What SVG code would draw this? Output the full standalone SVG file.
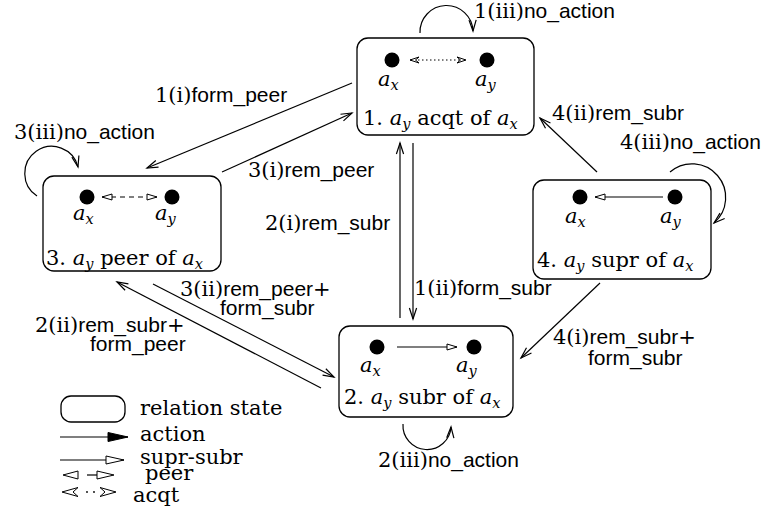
<svg xmlns="http://www.w3.org/2000/svg" width="766" height="522" viewBox="0 0 766 522">
  <style>
    text { fill: #000; white-space: pre; }
    .rm { font-family: "DejaVu Serif", "Liberation Serif", serif; font-size: 21px; }
    .ss { font-family: "Liberation Sans", Arial, sans-serif; font-size: 21px; }
    .it { font-style: italic; }
    .sub { font-size: 14.5px; }
    .box { fill: #fff; stroke: #000; stroke-width: 1.3; }
    .edge { fill: none; stroke: #000; stroke-width: 1.2; }
    .head { fill: #fff; stroke: #000; stroke-width: 1; }
    .dot { fill: #000; }
  </style>
  <defs>
    <!-- open stick arrowhead for actions -->
    <marker id="stick" markerUnits="userSpaceOnUse" markerWidth="14" markerHeight="12" refX="11" refY="5" orient="auto" overflow="visible">
      <path d="M0,1.4 L11,5 L0,8.6" fill="none" stroke="#000" stroke-width="1.2"/>
    </marker>
    <!-- hollow triangle (supr-subr / peer) -->
    <marker id="tri" markerUnits="userSpaceOnUse" markerWidth="12" markerHeight="9" refX="10" refY="3.5" orient="auto-start-reverse" overflow="visible">
      <path d="M0,0.5 L10,3.5 L0,6.5 Z" fill="#fff" stroke="#000" stroke-width="1"/>
    </marker>
    <marker id="triL" markerUnits="userSpaceOnUse" markerWidth="20" markerHeight="10" refX="18" refY="4.5" orient="auto-start-reverse" overflow="visible">
      <path d="M0,0.5 L18,4.5 L0,8.5 Z" fill="#fff" stroke="#000" stroke-width="1"/>
    </marker>
    <!-- notched hollow head (acqt) -->
    <marker id="notch" markerUnits="userSpaceOnUse" markerWidth="11" markerHeight="8" refX="9" refY="3" orient="auto-start-reverse" overflow="visible">
      <path d="M0,0 L9,3 L0,6 L3.5,3 Z" fill="#fff" stroke="#000" stroke-width="1"/>
    </marker>
    <!-- filled head (legend action) -->
    <marker id="fill" markerUnits="userSpaceOnUse" markerWidth="22" markerHeight="11" refX="20" refY="4.5" orient="auto" overflow="visible">
      <path d="M0,0 L20,4.5 L0,9 Z" fill="#000" stroke="#000" stroke-width="1"/>
    </marker>
  </defs>

  <!-- connectors between relation states -->
  <g id="connectors">
    <path class="edge" d="M352,83 L147,168" marker-end="url(#stick)"/>
    <path class="edge" d="M222,172 L352,113" marker-end="url(#stick)"/>
    <path class="edge" d="M400,318 L400,143" marker-end="url(#stick)"/>
    <path class="edge" d="M413,143 L413,319" marker-end="url(#stick)"/>
    <path class="edge" d="M597,172 L540,118" marker-end="url(#stick)"/>
    <path class="edge" d="M600,283 L521,358" marker-end="url(#stick)"/>
    <path class="edge" d="M153,284 L334,377" marker-end="url(#stick)"/>
    <path class="edge" d="M321,388 L117,282" marker-end="url(#stick)"/>
    <!-- self loops -->
    <path class="edge" d="M420,33 A26.5,26.5 0 0 1 473,31" marker-end="url(#stick)"/>
    <path class="edge" d="M37,196 A27,27 0 1 1 78,167" marker-end="url(#stick)"/>
    <path class="edge" d="M670,172 A33,33 0 0 1 714,223" marker-end="url(#stick)"/>
    <path class="edge" d="M403,424 A24,24 0 0 0 451,427" marker-end="url(#stick)"/>
  </g>

  <!-- edge labels -->
  <g id="labels">
    <text x="474" y="18"><tspan class="rm">1(iii)</tspan><tspan class="ss">no_action</tspan></text>
    <text x="155" y="102"><tspan class="rm">1(i)</tspan><tspan class="ss">form_peer</tspan></text>
    <text x="14" y="139"><tspan class="rm">3(iii)</tspan><tspan class="ss">no_action</tspan></text>
    <text x="248" y="177"><tspan class="rm">3(i)</tspan><tspan class="ss">rem_peer</tspan></text>
    <text x="265" y="230"><tspan class="rm">2(i)</tspan><tspan class="ss">rem_subr</tspan></text>
    <text x="552" y="120"><tspan class="rm">4(ii)</tspan><tspan class="ss">rem_subr</tspan></text>
    <text x="620" y="149"><tspan class="rm">4(iii)</tspan><tspan class="ss">no_action</tspan></text>
    <text x="180" y="296"><tspan class="rm">3(ii)</tspan><tspan class="ss">rem_peer</tspan><tspan class="rm">+</tspan></text>
    <text x="220" y="315" class="ss">form_subr</text>
    <text x="35" y="332"><tspan class="rm">2(ii)</tspan><tspan class="ss">rem_subr</tspan><tspan class="rm">+</tspan></text>
    <text x="90" y="351" class="ss">form_peer</text>
    <text x="414" y="295"><tspan class="rm">1(ii)</tspan><tspan class="ss">form_subr</tspan></text>
    <text x="553" y="344"><tspan class="rm">4(i)</tspan><tspan class="ss">rem_subr</tspan><tspan class="rm">+</tspan></text>
    <text x="588" y="365" class="ss">form_subr</text>
    <text x="378" y="467"><tspan class="rm">2(iii)</tspan><tspan class="ss">no_action</tspan></text>
  </g>

  <!-- state 1: acquaintance -->
  <g id="state1">
    <rect class="box" x="357" y="38" width="177" height="97" rx="11"/>
    <circle class="dot" cx="392" cy="60" r="7.5"/>
    <circle class="dot" cx="487" cy="60" r="7.5"/>
    <path class="edge" d="M410,60 L466,60" stroke-dasharray="1.5,2.5" marker-start="url(#notch)" marker-end="url(#notch)"/>
    <text class="rm it" x="378" y="86">a<tspan class="sub" dy="4">x</tspan></text>
    <text class="rm it" x="475" y="86">a<tspan class="sub" dy="4">y</tspan></text>
    <text class="rm" x="363" y="125">1. <tspan class="it">a</tspan><tspan class="it sub" dy="4">y</tspan><tspan dy="-4"> acqt of </tspan><tspan class="it">a</tspan><tspan class="it sub" dy="4">x</tspan></text>
  </g>

  <!-- state 2: subordinate -->
  <g id="state2">
    <rect class="box" x="339" y="326" width="174" height="91" rx="11"/>
    <circle class="dot" cx="377" cy="347" r="7.5"/>
    <circle class="dot" cx="474" cy="347" r="7.5"/>
    <path class="edge" d="M397,347 L457,347" marker-end="url(#tri)"/>
    <text class="rm it" x="360" y="372">a<tspan class="sub" dy="4">x</tspan></text>
    <text class="rm it" x="456" y="372">a<tspan class="sub" dy="4">y</tspan></text>
    <text class="rm" x="344" y="404">2. <tspan class="it">a</tspan><tspan class="it sub" dy="4">y</tspan><tspan dy="-4"> subr of </tspan><tspan class="it">a</tspan><tspan class="it sub" dy="4">x</tspan></text>
  </g>

  <!-- state 3: peer -->
  <g id="state3">
    <rect class="box" x="43" y="176" width="178" height="95" rx="11"/>
    <circle class="dot" cx="87" cy="197" r="7.5"/>
    <circle class="dot" cx="172" cy="197" r="7.5"/>
    <path class="edge" d="M102,197 L157,197" stroke-dasharray="5,4" marker-start="url(#tri)" marker-end="url(#tri)"/>
    <text class="rm it" x="73" y="220">a<tspan class="sub" dy="4">x</tspan></text>
    <text class="rm it" x="155" y="220">a<tspan class="sub" dy="4">y</tspan></text>
    <text class="rm" x="46" y="265">3. <tspan class="it">a</tspan><tspan class="it sub" dy="4">y</tspan><tspan dy="-4"> peer of </tspan><tspan class="it">a</tspan><tspan class="it sub" dy="4">x</tspan></text>
  </g>

  <!-- state 4: superior -->
  <g id="state4">
    <rect class="box" x="533" y="180" width="178" height="99" rx="11"/>
    <circle class="dot" cx="580" cy="197" r="7.5"/>
    <circle class="dot" cx="675" cy="197" r="7.5"/>
    <path class="edge" d="M663,197 L595,197" marker-end="url(#tri)"/>
    <text class="rm it" x="565" y="223">a<tspan class="sub" dy="4">x</tspan></text>
    <text class="rm it" x="660" y="223">a<tspan class="sub" dy="4">y</tspan></text>
    <text class="rm" x="537" y="267">4. <tspan class="it">a</tspan><tspan class="it sub" dy="4">y</tspan><tspan dy="-4"> supr of </tspan><tspan class="it">a</tspan><tspan class="it sub" dy="4">x</tspan></text>
  </g>

  <!-- legend -->
  <g id="legend">
    <rect class="box" x="61" y="396" width="64" height="26" rx="10"/>
    <text class="rm" x="140" y="415">relation state</text>
    <path class="edge" d="M60,437 L128,437" marker-end="url(#fill)"/>
    <text class="rm" x="140" y="441">action</text>
    <path class="edge" d="M60,460 L124,460" marker-end="url(#triL)"/>
    <text class="rm" x="140" y="464">supr-subr</text>
    <!-- peer: hollow heads with a short dash -->
    <polygon class="head" points="63,475 78,471 78,479"/>
    <path class="edge" d="M87,475 L97,475"/>
    <polygon class="head" points="97,471 114,475 97,479"/>
    <text class="rm" x="145" y="480">peer</text>
    <!-- acqt: notched heads with dots -->
    <polygon class="head" points="62,492 78,487.5 73,492 78,496.5"/>
    <circle cx="87" cy="492" r="0.9" class="dot"/>
    <circle cx="94" cy="492" r="0.9" class="dot"/>
    <polygon class="head" points="116,492 100,487.5 105,492 100,496.5"/>
    <text class="rm" x="133" y="502">acqt</text>
  </g>
</svg>
